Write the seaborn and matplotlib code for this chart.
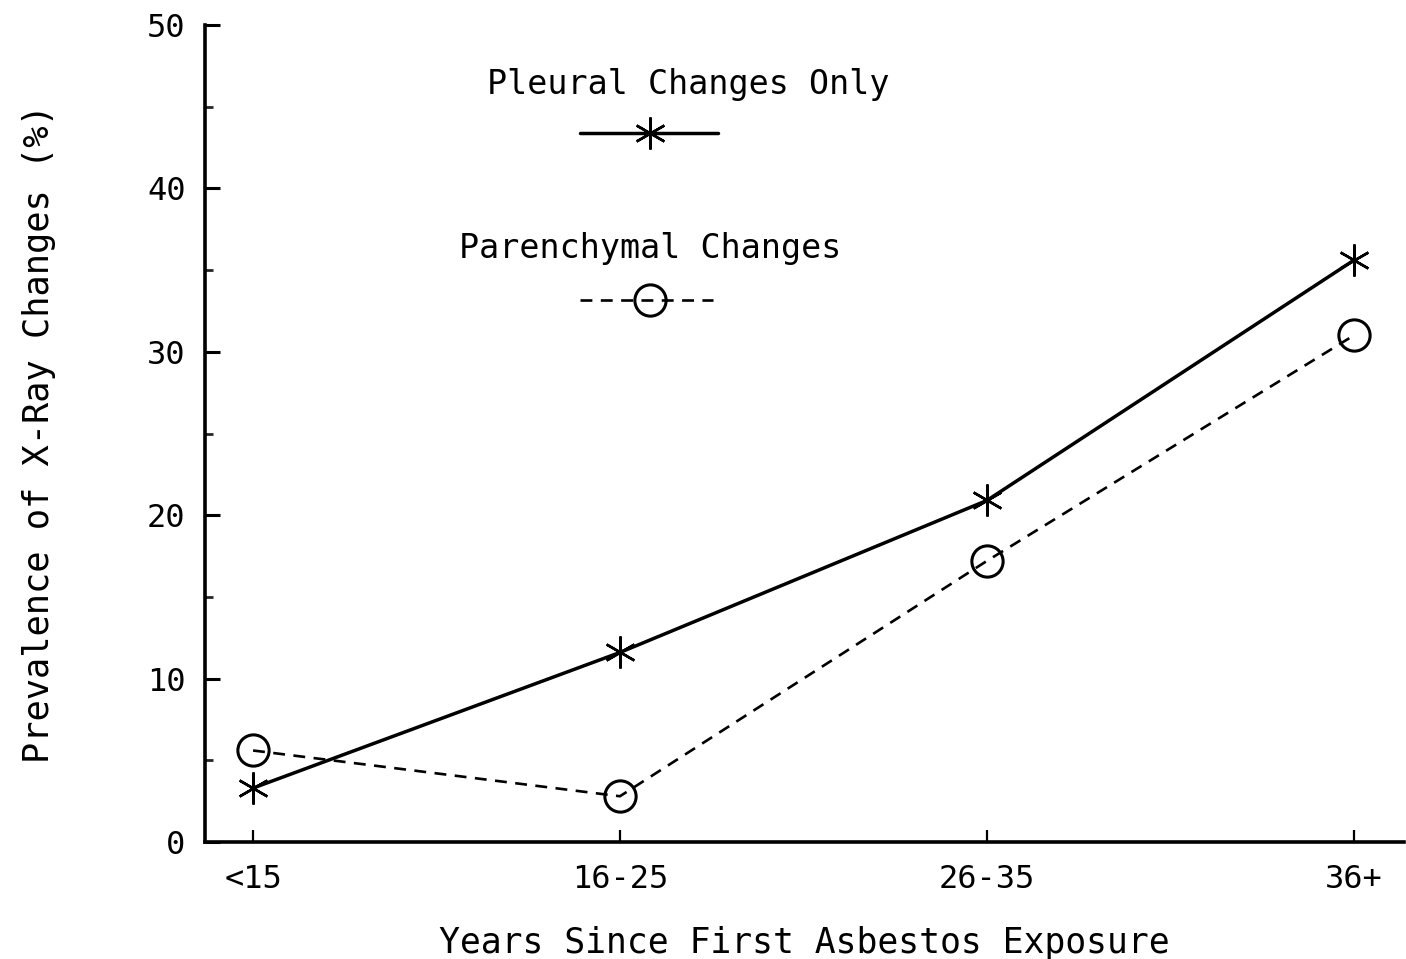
import numpy as np
import pandas as pd
import matplotlib
matplotlib.use("Agg")
import matplotlib.pyplot as plt
from matplotlib.lines import Line2D
import seaborn as sns

# Data
categories = ["<15", "16-25", "26-35", "36+"]
pleural = [3.3, 11.6, 20.9, 35.6]
parenchymal = [5.6, 2.8, 17.2, 31.0]
y_ticks = [0, 10, 20, 30, 40, 50]

sns.set_style("ticks")
plt.rcParams["font.family"] = ["DejaVu Sans Mono", "DejaVu Sans"]
plt.rcParams["text.color"] = "black"
plt.rcParams["axes.labelcolor"] = "black"

fig = plt.figure(figsize=(14.06, 9.59), dpi=100)
ax = fig.add_axes([205 / 1406, 117 / 959, 1199 / 1406, 817 / 959])

pos = np.arange(len(categories))
df = pd.DataFrame({"pos": pos, "pleural": pleural, "parenchymal": parenchymal})

asterisk = (6, 2, 0)
dash = (0, (4.5, 3.2))
solid_lw = 2.5
dash_lw = 1.9
sns.lineplot(data=df, x="pos", y="pleural", ax=ax, color="black", linewidth=solid_lw,
             marker=asterisk, markersize=23, markeredgewidth=1.8,
             markeredgecolor="black", clip_on=False)
sns.lineplot(data=df, x="pos", y="parenchymal", ax=ax, color="black", linewidth=dash_lw,
             linestyle=dash, marker="o", markersize=22.5,
             markerfacecolor="none", markeredgecolor="black", markeredgewidth=2.2,
             clip_on=False)

ax.set_xlim(-0.131, 3.137)
ax.set_ylim(0, 50)
ax.set_xticks(pos)
ax.set_xticklabels(categories)
ax.set_yticks(y_ticks)
ax.set_yticks(np.arange(5, 50, 10), minor=True)

for side in ("top", "right"):
    ax.spines[side].set_visible(False)
for side in ("left", "bottom"):
    ax.spines[side].set_linewidth(2.6)
    ax.spines[side].set_color("black")

ax.tick_params(axis="y", which="major", direction="in", length=11, width=2.2,
               labelsize=23, pad=14, colors="black")
ax.tick_params(axis="y", which="minor", direction="in", length=6, width=2.0)
ax.tick_params(axis="x", which="major", direction="in", length=9, width=1.6,
               labelsize=23, pad=16, colors="black")

ax.set_xlabel("Years Since First Asbestos Exposure", fontsize=25, labelpad=22)
ax.set_ylabel("Prevalence of X-Ray Changes (%)", fontsize=25.5)
ax.yaxis.set_label_coords(-0.124, 0.5)

# Key drawn inside the plotting area
ax.text(0.403, 0.9266, "Pleural Changes Only", transform=ax.transAxes,
        ha="center", va="center", fontsize=24)
ax.add_line(Line2D([0.3128, 0.4279], [0.868, 0.868], transform=ax.transAxes,
                   color="black", linewidth=solid_lw))
ax.add_line(Line2D([0.371], [0.868], transform=ax.transAxes, color="black",
                   marker=asterisk, markersize=23, markeredgewidth=1.8, linestyle="none"))

ax.text(0.371, 0.727, "Parenchymal Changes", transform=ax.transAxes,
        ha="center", va="center", fontsize=24)
ax.add_line(Line2D([0.3128, 0.424], [0.663, 0.663], transform=ax.transAxes,
                   color="black", linewidth=dash_lw, linestyle=dash))
ax.add_line(Line2D([0.371], [0.663], transform=ax.transAxes, color="black",
                   marker="o", markersize=22.5, markerfacecolor="none",
                   markeredgewidth=2.2, linestyle="none"))

fig.savefig("out.png", dpi=100, facecolor="white")
